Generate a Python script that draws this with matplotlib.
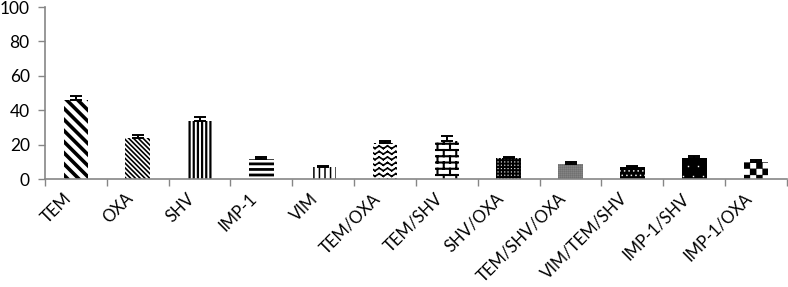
import numpy as np
import matplotlib
matplotlib.use("Agg")
import matplotlib.pyplot as plt
import matplotlib.hatch as mhatch
import matplotlib.transforms as mtrans
from matplotlib.path import Path

categories = ["TEM", "OXA", "SHV", "IMP-1", "VIM", "TEM/OXA", "TEM/SHV",
              "SHV/OXA", "TEM/SHV/OXA", "VIM/TEM/SHV", "IMP-1/SHV", "IMP-1/OXA"]
values = [46, 24, 34, 11.5, 7, 21, 22, 12, 9, 7, 12.5, 10]
errors = [2.5, 1.3, 2.0, 1.5, 0.6, 1.2, 3.0, 1.0, 1.0, 0.8, 0.8, 1.2]
yticks = [0, 20, 40, 60, 80, 100]


# ---- custom hatch patterns (selected by the number of '*' characters) ----
def _seg(verts, codes, p0, p1):
    verts += [p0, p1]
    codes += [Path.MOVETO, Path.LINETO]


def _square(verts, codes, x0, y0, s):
    verts += [(x0, y0), (x0 + s, y0), (x0 + s, y0 + s), (x0, y0 + s), (x0, y0)]
    codes += [Path.MOVETO, Path.LINETO, Path.LINETO, Path.LINETO, Path.CLOSEPOLY]


def _build(kind):
    v, c = [], []
    if kind == 1:  # wave
        rows, per = 18, 12
        n = per * 2
        for r in range(rows):
            y0 = (r + 0.5) / rows
            xs = np.linspace(0, 1, n + 1)
            ys = y0 + np.where(np.arange(n + 1) % 2 == 0, -0.013, 0.013)
            for i in range(n):
                _seg(v, c, (xs[i], ys[i]), (xs[i + 1], ys[i + 1]))
    elif kind == 2:  # brick
        rows, cols = 16, 8
        for r in range(rows):
            y0 = r / rows
            _seg(v, c, (0, y0), (1, y0))
            off = 0.5 * (r % 2)
            for j in range(cols):
                x = (j + off) / cols
                _seg(v, c, (x, y0), (x, y0 + 1 / rows))
    elif kind == 3:  # large checker
        n = 16
        s = 1 / n
        for i in range(n):
            for j in range(n):
                if (i + j) % 2 == 0:
                    _square(v, c, i * s, j * s, s)
    elif kind in (4, 5, 6, 7):  # dot grids
        n, size, stag = {4: (30, 0.008, False), 5: (50, 0.009, False),
                         6: (22, 0.010, True), 7: (10, 0.010, True)}[kind]
        s = 1 / n
        for i in range(n):
            for j in range(n):
                off = 0.5 * s * (j % 2) if stag else 0
                _square(v, c, i * s + off + s * 0.3, j * s + s * 0.3, size)
    return v, c


class CustomHatch(mhatch.HatchPatternBase):
    def __init__(self, hatch, density):
        kind = hatch.count('*')
        if kind:
            self._v, self._c = _build(kind)
        else:
            self._v, self._c = [], []
        self.num_vertices = len(self._v)

    def set_vertices_and_codes(self, vertices, codes):
        vertices[:] = np.asarray(self._v, dtype=float)
        codes[:] = np.asarray(self._c, dtype=Path.code_type)


mhatch._hatch_types = [t for t in mhatch._hatch_types if t is not mhatch.Stars]
mhatch._hatch_types.append(CustomHatch)

# style per bar: (hatch, facecolor, hatchcolor, hatch linewidth)
styles = [
    ("\\" * 3, "white", "black", 2.6),
    ("\\" * 7, "white", "black", 1.2),
    ("||||", "white", "black", 1.6),
    ("---", "white", "black", 2.0),
    ("|||", "white", "black", 1.1),
    ("*", "white", "black", 1.2),
    ("**", "white", "black", 1.5),
    ("****", "black", "white", 0.2),
    ("*****", "#3c3c3c", "#d8d8d8", 0.2),
    ("******", "black", "white", 0.3),
    ("*******", "black", "white", 0.3),
    ("***", "white", "black", 0.2),
]

fig = plt.figure(figsize=(7.88, 2.87), dpi=100)
ax = fig.add_axes([45 / 788, 1 - 179 / 287, 742 / 788, 172 / 287])

x = np.arange(len(categories))
for i, (h, fc, hc, lw) in enumerate(styles):
    with plt.rc_context({"hatch.linewidth": lw, "hatch.color": hc}):
        bars = ax.bar(x[i], values[i], width=0.4, color=fc, edgecolor=hc,
                      linewidth=0, hatch=h, zorder=2)
    for b in bars:
        if hasattr(b, "set_hatch_linewidth"):
            b.set_hatch_linewidth(lw)

ax.errorbar(x, values, yerr=[np.zeros(len(values)), errors], fmt="none",
            ecolor="black", elinewidth=1.4, capsize=4, capthick=1.4, zorder=3)

ax.set_xlim(-0.5, len(categories) - 0.5)
ax.set_ylim(0, 100)
ax.set_yticks(yticks)
ax.set_yticklabels([str(t) for t in yticks], fontsize=12.5, family="Lato")

gray = "#868686"
for s in ("top", "right"):
    ax.spines[s].set_visible(False)
for s in ("left", "bottom"):
    ax.spines[s].set_color(gray)
    ax.spines[s].set_linewidth(1.2)

ax.tick_params(axis="y", colors=gray, length=5, width=1, labelcolor="black", pad=6)
ax.set_xticks(x)
ax.set_xticks(np.arange(-0.5, len(categories)), minor=True)
ax.tick_params(axis="x", which="major", length=0, pad=6)
ax.tick_params(axis="x", which="minor", length=5, width=1, colors=gray)
labels = ax.set_xticklabels(categories, rotation=45, ha="right",
                            rotation_mode="anchor", fontsize=12, family="Lato")
offset = mtrans.ScaledTranslation(-13 / 100, -3 / 100, fig.dpi_scale_trans)
for lab in labels:
    lab.set_transform(lab.get_transform() + offset)

fig.savefig("out.png", dpi=100)
